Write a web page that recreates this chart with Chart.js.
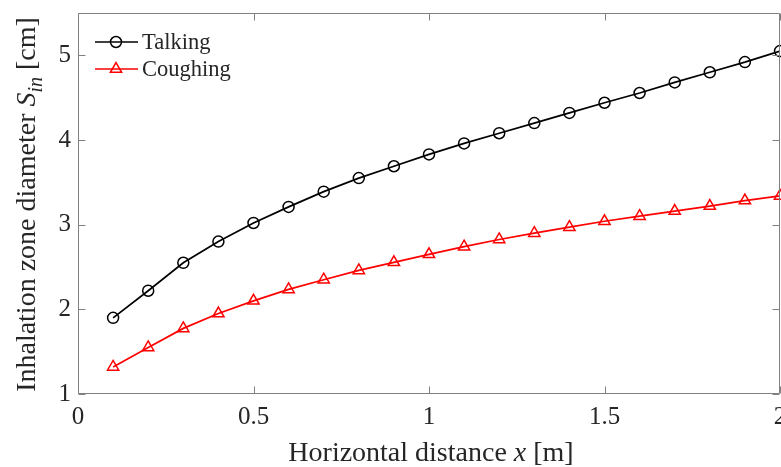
<!DOCTYPE html>
<html>
<head>
<meta charset="utf-8">
<script src="https://cdn.jsdelivr.net/npm/chart.js@4/dist/chart.umd.min.js"></script>
<style>
  html, body { margin: 0; padding: 0; background: #fff; }
  #wrap { width: 781px; height: 467px; }
</style>
</head>
<body>
<div id="wrap"><canvas id="c" width="781" height="467"></canvas></div>
<script>
// Horizontal distance from the source [m]
const distance = [0.1, 0.2, 0.3, 0.4, 0.5, 0.6, 0.7, 0.8, 0.9, 1.0,
                  1.1, 1.2, 1.3, 1.4, 1.5, 1.6, 1.7, 1.8, 1.9, 2.0];
// Inhalation zone diameter S_in [cm]
const talking  = [1.90, 2.22, 2.55, 2.80, 3.02, 3.21, 3.39, 3.55, 3.69, 3.83,
                  3.96, 4.08, 4.20, 4.32, 4.44, 4.555, 4.68, 4.80, 4.92, 5.05];
const coughing = [1.32, 1.55, 1.775, 1.95, 2.10, 2.235, 2.35, 2.46, 2.555, 2.65,
                  2.74, 2.825, 2.90, 2.97, 3.04, 3.10, 3.16, 3.22, 3.285, 3.34];
const xTicks = [0, 0.5, 1, 1.5, 2];
const yTicks = [1, 2, 3, 4, 5];

const SERIF = '"Liberation Serif", "Times New Roman", serif';
const TEXT = '#262626';
const AXIS = '#808080';

function points(ys) {
  return distance.map((x, i) => ({ x: x, y: ys[i] }));
}

// Box, inward ticks, legend and mixed-style axis titles
const decorations = {
  id: 'decorations',
  afterDraw(chart) {
    const ctx = chart.ctx;
    const a = chart.chartArea;
    const xs = chart.scales.x, ys = chart.scales.y;
    const L = Math.round(a.left) + 0.5, R = Math.round(a.right) - 0.5;
    const T = Math.round(a.top) + 0.5, B = Math.round(a.bottom) - 0.5;
    const tick = 7;

    ctx.save();
    ctx.strokeStyle = AXIS;
    ctx.lineWidth = 1;
    ctx.beginPath();
    ctx.rect(L, T, R - L, B - T);
    xTicks.forEach(v => {
      const px = Math.round(xs.getPixelForValue(v)) + 0.5;
      ctx.moveTo(px, B); ctx.lineTo(px, B - tick);
      ctx.moveTo(px, T); ctx.lineTo(px, T + tick);
    });
    yTicks.forEach(v => {
      const py = Math.round(ys.getPixelForValue(v)) + 0.5;
      ctx.moveTo(L, py); ctx.lineTo(L + tick, py);
      ctx.moveTo(R, py); ctx.lineTo(R - tick, py);
    });
    ctx.stroke();

    // legend
    const rows = [42, 69];
    chart.data.datasets.forEach((ds, i) => {
      const y = rows[i];
      ctx.strokeStyle = ds.borderColor;
      ctx.lineWidth = ds.borderWidth;
      ctx.beginPath();
      ctx.moveTo(95, y); ctx.lineTo(138, y);
      ctx.stroke();
      ctx.fillStyle = 'rgba(0,0,0,0)';
      ctx.strokeStyle = ds.pointBorderColor;
      ctx.lineWidth = ds.pointBorderWidth;
      Chart.helpers.drawPoint(ctx, {
        pointStyle: ds.pointStyle, radius: ds.pointRadius, rotation: 0,
        borderWidth: ds.pointBorderWidth
      }, 116, y);
      ctx.fillStyle = TEXT;
      ctx.font = '22.5px ' + SERIF;
      ctx.textAlign = 'left';
      ctx.textBaseline = 'middle';
      ctx.fillText(ds.label, 142, y + 1);
    });

    // x-axis title: Horizontal distance x [m]
    ctx.fillStyle = TEXT;
    ctx.textBaseline = 'alphabetic';
    ctx.textAlign = 'left';
    const xParts = [
      { t: 'Horizontal distance ', f: '28px ' + SERIF },
      { t: 'x', f: 'italic 28px ' + SERIF },
      { t: ' [m]', f: '28px ' + SERIF }
    ];
    let w = 0;
    xParts.forEach(p => { ctx.font = p.f; p.w = ctx.measureText(p.t).width; w += p.w; });
    let cx = (a.left + a.right) / 2 - w / 2 + 2;
    xParts.forEach(p => { ctx.font = p.f; ctx.fillText(p.t, cx, 461); cx += p.w; });

    // y-axis title: Inhalation zone diameter S_in [cm]
    const yParts = [
      { t: 'Inhalation zone diameter ', f: '28px ' + SERIF, dy: 0 },
      { t: 'S', f: 'italic 28px ' + SERIF, dy: 0 },
      { t: 'in', f: 'italic 20px ' + SERIF, dy: 7 },
      { t: ' [cm]', f: '28px ' + SERIF, dy: 0 }
    ];
    w = 0;
    yParts.forEach(p => { ctx.font = p.f; p.w = ctx.measureText(p.t).width; w += p.w; });
    ctx.translate(35, (a.top + a.bottom) / 2 + 1);
    ctx.rotate(-Math.PI / 2);
    let tx = -w / 2;
    yParts.forEach(p => { ctx.font = p.f; ctx.fillText(p.t, tx, p.dy); tx += p.w; });
    ctx.restore();
  }
};

new Chart(document.getElementById('c'), {
  type: 'line',
  data: {
    datasets: [
      {
        label: 'Talking',
        data: points(talking),
        borderColor: '#000000',
        borderWidth: 1.7,
        pointStyle: 'circle',
        pointRadius: 5.5,
        pointBorderWidth: 1.5,
        pointBorderColor: '#000000',
        pointBackgroundColor: 'rgba(0,0,0,0)',
        tension: 0
      },
      {
        label: 'Coughing',
        data: points(coughing),
        borderColor: '#ff0000',
        borderWidth: 1.7,
        pointStyle: 'triangle',
        pointRadius: 6.5,
        pointBorderWidth: 1.5,
        pointBorderColor: '#ff0000',
        pointBackgroundColor: 'rgba(0,0,0,0)',
        tension: 0
      }
    ]
  },
  options: {
    responsive: false,
    animation: false,
    devicePixelRatio: 1,
    clip: false,
    layout: { autoPadding: false, padding: { top: 13, right: 1, left: 0, bottom: 0 } },
    plugins: { legend: { display: false }, tooltip: { enabled: false } },
    scales: {
      x: {
        type: 'linear',
        min: 0, max: 2,
        grid: { display: false, drawTicks: false },
        border: { display: false },
        afterBuildTicks(s) { s.ticks = xTicks.map(v => ({ value: v })); },
        afterFit(s) { s.height = 73; s.paddingLeft = 0; s.paddingRight = 0; },
        ticks: {
          autoSkip: false, maxRotation: 0, padding: 8,
          color: TEXT, font: { family: SERIF, size: 25 },
          callback: v => String(v)
        }
      },
      y: {
        type: 'linear',
        min: 1, max: 5.5,
        grid: { display: false, drawTicks: false },
        border: { display: false },
        afterBuildTicks(s) { s.ticks = yTicks.map(v => ({ value: v })); },
        afterFit(s) { s.width = 78; s.paddingTop = 0; s.paddingBottom = 0; },
        ticks: {
          padding: 7,
          color: TEXT, font: { family: SERIF, size: 25 },
          callback: v => String(v)
        }
      }
    }
  },
  plugins: [decorations]
});
</script>
</body>
</html>
